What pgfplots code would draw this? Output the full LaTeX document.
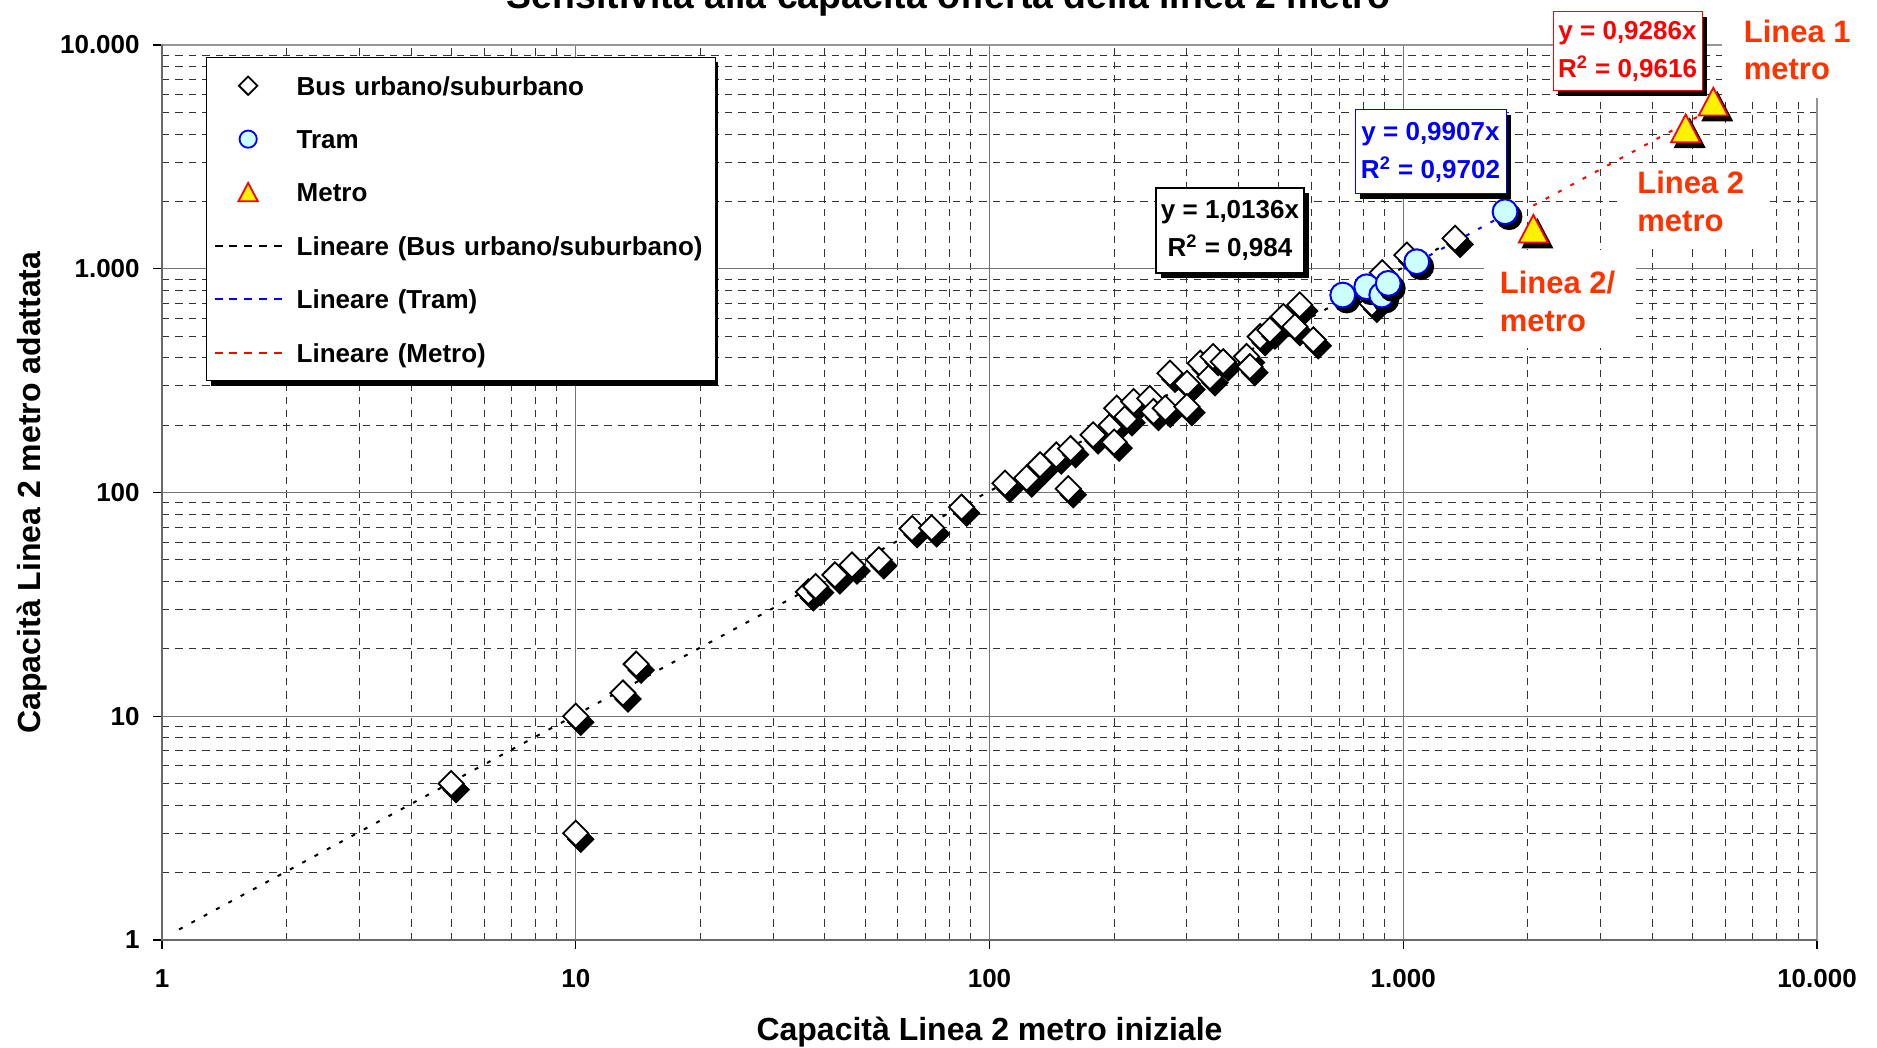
\documentclass[border=0pt]{standalone}
\usepackage{fontspec}
\setmainfont{Liberation Sans}
\usepackage{pgfplots}
\pgfplotsset{compat=1.18}
\usepackage{pgfplotstable}
\usetikzlibrary{shadows}

\definecolor{tramfill}{RGB}{204,255,255}
\definecolor{labelred}{RGB}{255,51,0}
\definecolor{framegray}{RGB}{150,150,150}
\definecolor{axisgray}{RGB}{105,105,105}
\definecolor{majorgray}{RGB}{115,115,115}

% Marks drawn together with their solid black drop shadow
\pgfdeclareplotmark{busmark}{%
  \begin{pgfscope}
    \pgftransformshift{\pgfqpoint{2.5pt}{-3pt}}%
    \pgfsetfillcolor{black}\pgfsetstrokecolor{black}%
    \pgfpathmoveto{\pgfqpoint{0pt}{\pgfplotmarksize}}%
    \pgfpathlineto{\pgfqpoint{\pgfplotmarksize}{0pt}}%
    \pgfpathlineto{\pgfqpoint{0pt}{-\pgfplotmarksize}}%
    \pgfpathlineto{\pgfqpoint{-\pgfplotmarksize}{0pt}}%
    \pgfpathclose
    \pgfusepath{fill,stroke}%
  \end{pgfscope}%
  \pgfsetfillcolor{white}\pgfsetstrokecolor{black}%
  \pgfpathmoveto{\pgfqpoint{0pt}{\pgfplotmarksize}}%
  \pgfpathlineto{\pgfqpoint{\pgfplotmarksize}{0pt}}%
  \pgfpathlineto{\pgfqpoint{0pt}{-\pgfplotmarksize}}%
  \pgfpathlineto{\pgfqpoint{-\pgfplotmarksize}{0pt}}%
  \pgfpathclose
  \pgfusepath{fill,stroke}%
}
\pgfdeclareplotmark{trammark}{%
  \begin{pgfscope}
    \pgftransformshift{\pgfqpoint{2pt}{-2.5pt}}%
    \pgfsetfillcolor{black}\pgfsetstrokecolor{black}%
    \pgfpathcircle{\pgfpointorigin}{\pgfplotmarksize}%
    \pgfusepath{fill,stroke}%
  \end{pgfscope}%
  \pgfsetfillcolor{tramfill}\pgfsetstrokecolor{blue}%
  \pgfpathcircle{\pgfpointorigin}{\pgfplotmarksize}%
  \pgfusepath{fill,stroke}%
}
\pgfdeclareplotmark{metromark}{%
  \begin{pgfscope}
    \pgftransformshift{\pgfqpoint{2pt}{-2.5pt}}%
    \pgfsetfillcolor{black}\pgfsetstrokecolor{black}%
    \pgfpathmoveto{\pgfqpoint{0pt}{.825\pgfplotmarksize}}%
    \pgfpathlineto{\pgfqpoint{.866\pgfplotmarksize}{-.825\pgfplotmarksize}}%
    \pgfpathlineto{\pgfqpoint{-.866\pgfplotmarksize}{-.825\pgfplotmarksize}}%
    \pgfpathclose
    \pgfusepath{fill,stroke}%
  \end{pgfscope}%
  \pgfsetfillcolor{yellow}\pgfsetstrokecolor{red}%
  \pgfpathmoveto{\pgfqpoint{0pt}{.825\pgfplotmarksize}}%
  \pgfpathlineto{\pgfqpoint{.866\pgfplotmarksize}{-.825\pgfplotmarksize}}%
  \pgfpathlineto{\pgfqpoint{-.866\pgfplotmarksize}{-.825\pgfplotmarksize}}%
  \pgfpathclose
  \pgfusepath{fill,stroke}%
}

% Capacity of line 2: initial (x) and adapted (y)
\pgfplotstableread{
x y
5 5
10 10
10 3
13 12.7
14 17.1
36.5 36
38 38
42.3 42.8
46.5 47.4
54 50
65 69
72.5 69.5
85.6 86
109 110
123 116
132.5 133
145 147
155 104
157 157
178 181
197 200
200 168
203 238
215 218
223 255
244 263
249 230
266 238
273 341
300 307
300 242
323 378
341 329
347 405
367 384
418 405
426 365
451 497
476 532
513 611
547 551
562 689
606 481
840 700
890 960
1020 1150
1334 1367
}\busdata

\pgfplotstableread{
x y
714 763
816 831
887 763
920 860
1078 1075
1762 1798
}\tramdata

\pgfplotstableread{
x y
2063 1510
4815 4243
5614 5581
}\metrodata

\begin{document}
\begin{tikzpicture}
\begin{axis}[
  at={(81pt,54pt)}, anchor=south west,
  scale only axis, width=827.5pt, height=447.5pt,
  xmode=log, ymode=log,
  xmin=1, xmax=10000, ymin=1, ymax=10000,
  clip=false,
  xtick={1,10,100,1000,10000}, xticklabels={1,10,100,1.000,10.000},
  ytick={1,10,100,1000,10000}, yticklabels={1,10,100,1.000,10.000},
  xtick pos=bottom, ytick pos=left,
  tick align=outside,
  major tick length=4.5pt, minor tick length=0pt,
  major tick style={black, line width=0.6pt},
  grid=both,
  major grid style={majorgray, line width=0.5pt},
  minor grid style={black!80, line width=0.45pt, dash pattern=on 3.7pt off 3pt},
  axis line style={framegray, line width=0.8pt},
  tick label style={font=\fontsize{13}{15}\selectfont\bfseries},
  xticklabel style={anchor=north, inner sep=0pt, yshift=-10pt},
  yticklabel style={anchor=east, inner sep=0pt, xshift=-6.5pt},
  xlabel={Capacità Linea 2 metro iniziale},
  ylabel={Capacità Linea 2 metro adattata},
  xlabel style={at={(axis description cs:0.5,-0.1128)}, anchor=base, inner sep=0pt, font=\fontsize{16}{18}\selectfont\bfseries},
  ylabel style={at={(axis description cs:-0.0737,0.5)}, anchor=base, inner sep=0pt, font=\fontsize{16}{18}\selectfont\bfseries},
  legend style={at={(axis description cs:0.0266,0.9866)}, anchor=north west,
    draw=black, line width=0.65pt, fill=white,
    font=\fontsize{13}{15}\selectfont\bfseries,
    inner xsep=3.5pt, inner ysep=8.75pt, row sep=16.1pt, column sep=7pt,
    nodes={inner sep=0pt, text height=10pt, text depth=0.6pt, text width=206pt}},
  legend cell align=left,
]
% white panels behind the line labels
\fill[white] (rel axis cs:0.9424,0.9403) rectangle (rel axis cs:1.05,1.07);
\fill[white] (rel axis cs:0.8791,0.7732) rectangle (rel axis cs:0.9698,0.8670);
\fill[white] (rel axis cs:0.7988,0.6615) rectangle (rel axis cs:0.8906,0.7709);
% heavier left and bottom axis lines
\draw[axisgray, line width=1.2pt] (rel axis cs:0,1) -- (rel axis cs:0,0) -- (rel axis cs:1,0);
% solid shadow behind the legend box
\fill[black] (rel axis cs:0.02985,0.61944) rectangle (rel axis cs:0.33619,0.98056);

% data points
\addplot[forget plot, only marks, mark=busmark, mark size=6.3pt, mark options={line width=0.9pt}]
  table {\busdata};
\addplot[forget plot, only marks, mark=trammark, mark size=6.2pt, mark options={line width=1pt}]
  table {\tramdata};
\addplot[forget plot, only marks, mark=metromark, mark size=8.4pt, mark options={line width=0.9pt}]
  table {\metrodata};

% linear trend lines through the origin
\addplot[forget plot, black, line width=1pt, dash pattern=on 2pt off 5pt]
  coordinates {(1.1,1.115) (1334,1352.1)};
\addplot[forget plot, blue, line width=1pt, dash pattern=on 2pt off 5pt]
  coordinates {(714,707.4) (1762,1745.6)};
\addplot[forget plot, red, line width=1pt, dash pattern=on 2pt off 5pt]
  coordinates {(2063,1915.7) (5614,5213.2)};

% legend
\addlegendimage{legend image code/.code={%
  \draw[black, fill=white, line width=0.9pt] (16.75pt,4.6pt) -- (21.35pt,0pt) -- (16.75pt,-4.6pt) -- (12.15pt,0pt) -- cycle;}}
\addlegendentry{Bus urbano/suburbano}
\addlegendimage{legend image code/.code={%
  \draw[blue, fill=tramfill, line width=0.9pt] (16.75pt,0pt) circle (4.3pt);}}
\addlegendentry{Tram}
\addlegendimage{legend image code/.code={%
  \draw[red, fill=yellow, line width=0.9pt] (16.75pt,4.8pt) -- (21.6pt,-4.4pt) -- (11.9pt,-4.4pt) -- cycle;}}
\addlegendentry{Metro}
\addlegendimage{legend image code/.code={%
  \draw[black, line width=1pt, dash pattern=on 4pt off 3.4pt] (0pt,0pt) -- (33.5pt,0pt);}}
\addlegendentry{Lineare (Bus urbano/suburbano)}
\addlegendimage{legend image code/.code={%
  \draw[blue, line width=1pt, dash pattern=on 4pt off 3.4pt] (0pt,0pt) -- (33.5pt,0pt);}}
\addlegendentry{Lineare (Tram)}
\addlegendimage{legend image code/.code={%
  \draw[red, line width=1pt, dash pattern=on 4pt off 3.4pt] (0pt,0pt) -- (33.5pt,0pt);}}
\addlegendentry{Lineare (Metro)}
\end{axis}

% title
\node[anchor=base, inner sep=0pt, font=\fontsize{18.7}{20}\selectfont\bfseries]
  at (474.3pt,519.8pt) {Sensitività alla capacità offerta della linea 2 metro};

% trend line equations
\tikzset{eqbox/.style={fill=white, inner sep=0pt, align=center,
  font=\fontsize{13}{19}\selectfont\bfseries,
  drop shadow={shadow xshift=2.5pt, shadow yshift=-2.5pt, fill=black, opacity=1}}}
\node[eqbox, draw=black, line width=0.8pt, minimum width=74pt, minimum height=42.5pt]
  at (615pt,408.75pt) {y = 1,0136x\\R\textsuperscript{2} = 0,984};
\node[eqbox, draw=blue, text=blue, line width=0.5pt, minimum width=75.5pt, minimum height=42pt]
  at (715.25pt,448pt) {y = 0,9907x\\R\textsuperscript{2} = 0,9702};
\node[eqbox, draw=red, text=red, line width=0.5pt, minimum width=74.5pt, minimum height=39.5pt]
  at (813.75pt,498.25pt) {y = 0,9286x\\R\textsuperscript{2} = 0,9616};

% line labels
\tikzset{linelabel/.style={anchor=base west, inner sep=0pt, text=labelred,
  font=\fontsize{15.5}{18}\selectfont\bfseries}}
\node[linelabel] at (871.7pt,502.7pt) {Linea 1};
\node[linelabel] at (871.7pt,484pt) {metro};
\node[linelabel] at (818.5pt,427.2pt) {Linea 2};
\node[linelabel] at (818.5pt,408.3pt) {metro};
\node[linelabel] at (749.7pt,377pt) {Linea 2/};
\node[linelabel] at (749.7pt,358.2pt) {metro};

\pgfresetboundingbox
\path[use as bounding box] (0,0) rectangle (938.5pt,524pt);
\end{tikzpicture}
\end{document}
